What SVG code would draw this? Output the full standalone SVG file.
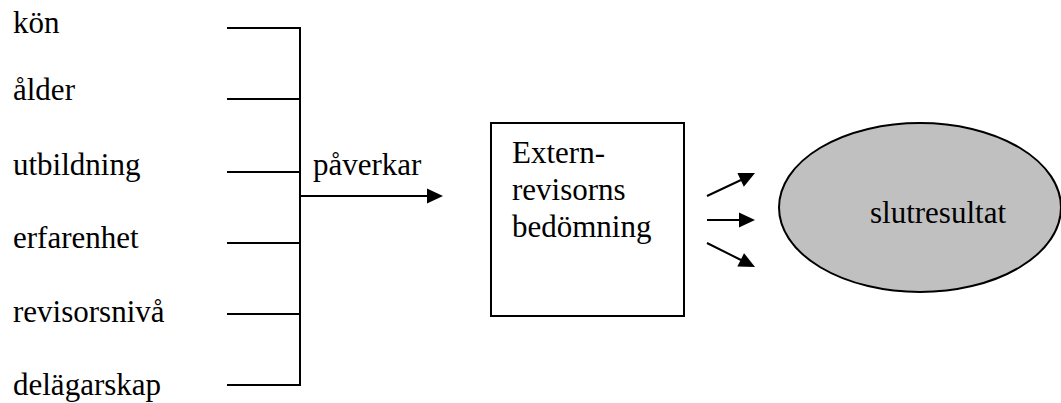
<svg xmlns="http://www.w3.org/2000/svg" width="1061" height="403" viewBox="0 0 1061 403">
<rect width="1061" height="403" fill="#fff"/>
<g id="factors">
<text x="13" y="33" style="font-family:'Liberation Serif',serif;font-size:31px">kön</text>
<text x="13" y="100" style="font-family:'Liberation Serif',serif;font-size:31px">ålder</text>
<text x="13" y="175" style="font-family:'Liberation Serif',serif;font-size:31px">utbildning</text>
<text x="13" y="248" style="font-family:'Liberation Serif',serif;font-size:31px">erfarenhet</text>
<text x="13" y="322" style="font-family:'Liberation Serif',serif;font-size:31px">revisorsnivå</text>
<text x="13" y="395" style="font-family:'Liberation Serif',serif;font-size:31px">delägarskap</text>
</g>
<g id="connectors">
<path d="M227,28H300M227,99H300M227,172H300M227,243H300M227,314H300M227,385H300M300,27V386M300,196H429M707,196L741,180M707,220H740M707,243L741,260" stroke="#000" stroke-width="2" fill="none"/>
<polygon points="443,196 427,188.5 427,203.5" fill="#000"/>
<polygon points="755,173 743.8,186.7 737.4,173.1" fill="#000"/>
<polygon points="755,220 739,212.5 739,227.5" fill="#000"/>
<polygon points="755,267 737.35,266.55 744.05,253.15" fill="#000"/>
<text x="313" y="175" style="font-family:'Liberation Serif',serif;font-size:31px">påverkar</text>
</g>
<g id="box">
<rect x="491" y="123" width="193" height="193" fill="#fff" stroke="#000" stroke-width="2"/>
<text x="512" y="163" style="font-family:'Liberation Serif',serif;font-size:31px">Extern-</text>
<text x="512" y="200" style="font-family:'Liberation Serif',serif;font-size:31px">revisorns</text>
<text x="512" y="237" style="font-family:'Liberation Serif',serif;font-size:31px">bedömning</text>
</g>
<g id="result">
<ellipse cx="920" cy="207.5" rx="141" ry="84.5" fill="#c0c0c0" stroke="#000" stroke-width="2"/>
<text x="938" y="223" text-anchor="middle" style="font-family:'Liberation Serif',serif;font-size:31px">slutresultat</text>
</g>
</svg>
